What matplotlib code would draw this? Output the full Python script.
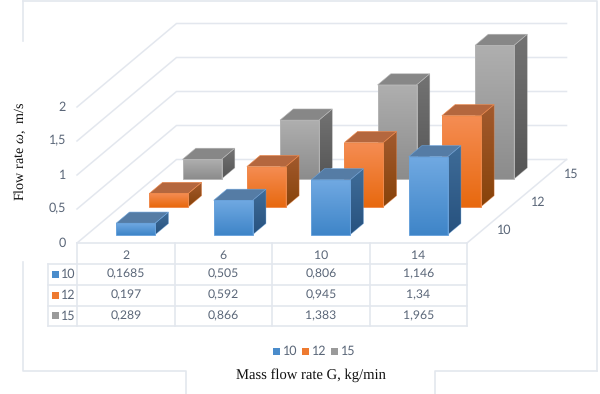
import numpy as np
import matplotlib
matplotlib.use('Agg')
import matplotlib.pyplot as plt
from matplotlib.patches import Polygon, Rectangle

categories = ['2', '6', '10', '14']
series_names = ['10', '12', '15']
series_10 = [0.1685, 0.505, 0.806, 1.146]
series_12 = [0.197, 0.592, 0.945, 1.34]
series_15 = [0.289, 0.866, 1.383, 1.965]
table_10 = ['0,1685', '0,505', '0,806', '1,146']
table_12 = ['0,197', '0,592', '0,945', '1,34']
table_15 = ['0,289', '0,866', '1,383', '1,965']
y_ticks = [0, 0.5, 1, 1.5, 2]
y_labels = ['0', '0,5', '1', '1,5', '2']

plt.rcParams['mathtext.fontset'] = 'custom'
plt.rcParams['mathtext.it'] = 'Liberation Serif:italic'
plt.rcParams['mathtext.rm'] = 'Liberation Serif'
plt.rcParams['text.hinting'] = 'none'

GRID = '#e3e7ee'
TXT = '#5a6678'
# oblique projection, everything is worked out in pixels of the picture
X0, Y0 = 77, 243
CAT_W = 97.5
DX, DY = 99.5, 83.5
UNIT = 68
BAR_W = 0.4
SLOT = 1 / 3
BAR_D = 0.4 * SLOT

# front top, front bottom, side top, side bottom, roof
blue = ['#70a9e2', '#3f85c8', '#3f6c98', '#27527f', '#557ca5']
orange = ['#f58d54', '#e8690f', '#a25a2e', '#88430a', '#b4673e']
gray = ['#afafaf', '#8c8c8c', '#737373', '#565656', '#878787']
edge = ['#6aa3dc', '#f08a4c', '#b5b5b5']
keys = ['#4a8ccb', '#ee7a30', '#9a9a9a']


def proj(x, d, v):
    return X0 + x * CAT_W + d * DX, Y0 - d * DY - v * UNIT


def gradient(pts, c1, c2, z):
    # vertical gradient clipped to the face
    pts = np.array(pts)
    c = np.array([matplotlib.colors.to_rgb(c1), matplotlib.colors.to_rgb(c2)])
    t = np.linspace(0, 1, 64)[:, None]
    img = (c[0] * (1 - t) + c[1] * t)[:, None, :]
    im = ax.imshow(img, extent=(pts[:, 0].min(), pts[:, 0].max(), pts[:, 1].max(), pts[:, 1].min()),
                   aspect='auto', zorder=z, interpolation='bilinear')
    poly = Polygon(pts, closed=True, transform=ax.transData, fc='none', ec='none')
    ax.add_patch(poly)
    im.set_clip_path(poly)


def bar(cat, ser, val, cols, ec, z):
    x1 = cat + 0.5 - BAR_W / 2
    x2 = x1 + BAR_W
    d1 = ser * SLOT + (SLOT - BAR_D) / 2
    d2 = d1 + BAR_D
    front = [proj(x1, d1, val), proj(x2, d1, val), proj(x2, d1, 0), proj(x1, d1, 0)]
    side = [proj(x2, d1, val), proj(x2, d2, val), proj(x2, d2, 0), proj(x2, d1, 0)]
    roof = [proj(x1, d1, val), proj(x2, d1, val), proj(x2, d2, val), proj(x1, d2, val)]
    gradient(side, cols[2], cols[3], z)
    gradient(front, cols[0], cols[1], z + 0.1)
    ax.add_patch(Polygon(roof, closed=True, fc=cols[4], ec=ec, lw=0.4, zorder=z + 0.2))
    ax.add_patch(Polygon(front, closed=True, fc='none', ec=ec, lw=0.7, zorder=z + 0.3))
    ax.add_patch(Polygon(side, closed=True, fc='none', ec=ec, lw=0.4, alpha=0.6, zorder=z + 0.3))


fig = plt.figure(figsize=(6, 3.94), dpi=100)
ax = fig.add_axes([0, 0, 1, 1])
ax.axis('off')

# picture frame, broken where the labels were pasted over
for xs, ys in [([22.5, 22.5], [41, 1]), ([22.5, 597, 597], [1, 1, 371]),
               ([597, 435, 435], [371, 371, 394]),
               ([22.5, 22.5, 186, 186], [262, 371, 371, 394])]:
    ax.plot(xs, ys, color=GRID, lw=1.2, zorder=1)

# walls and floor
n = len(categories)
for t in y_ticks:
    a = proj(0, 0, t)
    b = proj(0, 1, t)
    c = proj(n, 1, t)
    ax.plot([a[0], b[0], c[0]], [a[1], b[1], c[1]], color=GRID, lw=1.1, zorder=2)
a = proj(n, 0, 0)
b = proj(n, 1, 0)
ax.plot([a[0], b[0]], [a[1], b[1]], color=GRID, lw=1.1, zorder=2)

for t, lab in zip(y_ticks, y_labels):
    ax.text(X0 - 11, proj(0, 0, t)[1], lab, ha='right', va='center', color=TXT,
            fontsize=9, family='Lato')

# depth labels
for s, name in enumerate(series_names):
    px, py = proj(n, (s + 0.5) * SLOT, 0)
    ax.text(px + 21, py + 1, name, ha='center', va='center', color=TXT, fontsize=9, family='Lato')

# bars, back row first
all_vals = [series_10, series_12, series_15]
all_cols = [blue, orange, gray]
for s in [2, 1, 0]:
    for c in range(n):
        bar(c, s, all_vals[s][c], all_cols[s], edge[s], 10 + (2 - s) * 5 + c)

# data table
row_y = [243, 263.5, 284.5, 305.5, 326]
col_x = [X0 + i * CAT_W for i in range(n + 1)]
LEFT = 47.5
ax.plot([col_x[0], col_x[-1]], [row_y[0], row_y[0]], color=GRID, lw=1.2, zorder=3)
for y in row_y[1:]:
    ax.plot([LEFT, col_x[-1]], [y, y], color=GRID, lw=1.2, zorder=3)
ax.plot([LEFT, LEFT], [row_y[1], row_y[-1]], color=GRID, lw=1.2, zorder=3)
for x in col_x:
    ax.plot([x, x], [row_y[0], row_y[-1]], color=GRID, lw=1.2, zorder=3)
for i, lab in enumerate(categories):
    ax.text(col_x[i] + CAT_W / 2, 255.5, lab, ha='center', va='center', color=TXT,
            fontsize=8.8, family='Lato')
table_rows = [table_10, table_12, table_15]
for r, row in enumerate(table_rows):
    yc = (row_y[r + 1] + row_y[r + 2]) / 2
    ax.add_patch(Rectangle((51.5, yc - 3.5), 7, 7, fc=keys[r], ec='none', zorder=4))
    ax.text(61, yc, series_names[r], ha='left', va='center', color=TXT, fontsize=9, family='Lato')
    for i, lab in enumerate(row):
        ax.text(col_x[i] + CAT_W / 2, yc, lab, ha='center', va='center', color=TXT,
                fontsize=8.8, family='Lato')

# legend under the table
for i, name in enumerate(series_names):
    lx = 273 + i * 29
    ax.add_patch(Rectangle((lx, 347.5), 6.5, 7, fc=keys[i], ec='none', zorder=4))
    ax.text(lx + 10, 351, name, ha='left', va='center', color=TXT, fontsize=9, family='Lato')

ax.text(310.5, 375.5, 'Mass flow rate G, kg/min', ha='center', va='center', color='#111111',
        fontsize=10.5, family='Liberation Serif')
ax.text(20, 151, r'Flow rate $\mathit{\omega}$,  m/s', rotation=90, ha='center', va='center',
        color='#111111', fontsize=10.2, family='Liberation Serif')

ax.set_xlim(0, 600)
ax.set_ylim(394, 0)
fig.savefig('out.png', dpi=100)
